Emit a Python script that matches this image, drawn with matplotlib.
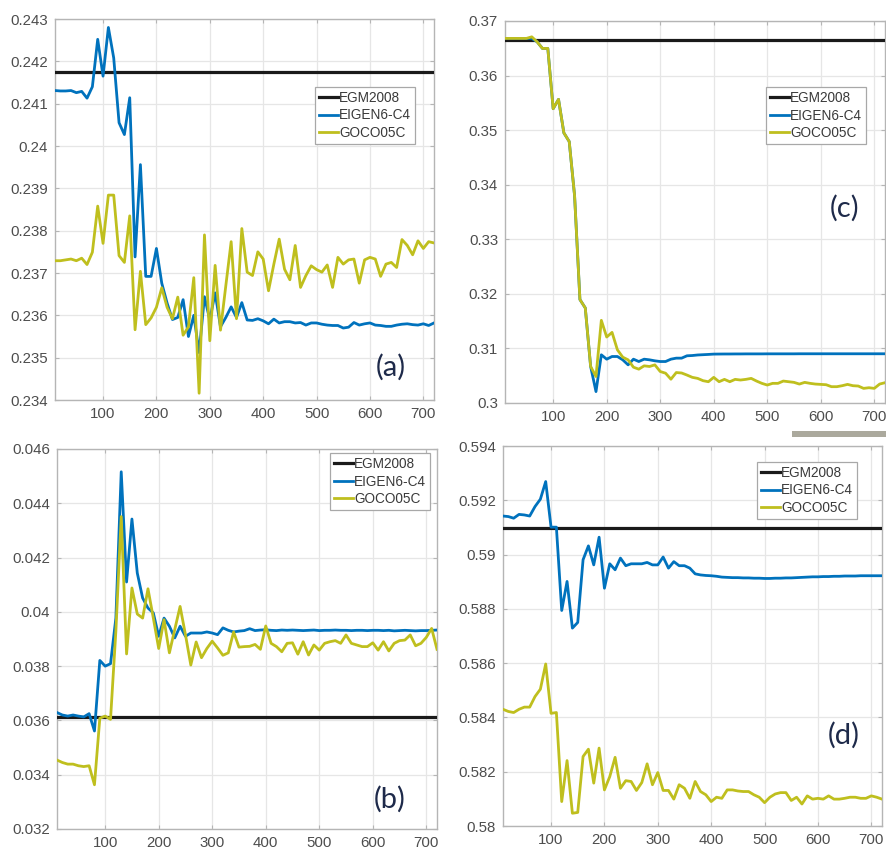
import matplotlib
matplotlib.use("Agg")
import matplotlib.pyplot as plt
import numpy as np
from matplotlib.ticker import FuncFormatter, MultipleLocator
from matplotlib.patches import Rectangle

plt.rcParams['font.family'] = ['Liberation Sans', 'DejaVu Sans']

# ---------------- data ----------------
degree = list(range(10, 721, 10))
labels = ["EGM2008", "EIGEN6-C4", "GOCO05C"]

# panel (a)
a_egm = 0.24175
a_eigen = [0.24131, 0.24130, 0.24130, 0.24131, 0.24126, 0.24129, 0.24113, 0.24140, 0.24252, 0.24165,
           0.24280, 0.24208, 0.24055, 0.24027, 0.24114, 0.23738, 0.23956, 0.23692, 0.23692, 0.23758,
           0.23676, 0.23629, 0.23590, 0.23595, 0.23637, 0.23550, 0.23600, 0.23512, 0.23644, 0.23589,
           0.23653, 0.23573, 0.23595, 0.23620, 0.23595, 0.23630, 0.23589, 0.23588, 0.23592, 0.23587,
           0.23580, 0.23591, 0.23582, 0.23585, 0.23585, 0.23582, 0.23583, 0.23577, 0.23582, 0.23582,
           0.23579, 0.23577, 0.23576, 0.23576, 0.23570, 0.23572, 0.23583, 0.23577, 0.23580, 0.23582,
           0.23577, 0.23576, 0.23574, 0.23574, 0.23577, 0.23579, 0.23580, 0.23578, 0.23577, 0.23580,
           0.23576, 0.23582]
a_goco = [0.23729, 0.23729, 0.23731, 0.23733, 0.23729, 0.23735, 0.23720, 0.23749, 0.23858, 0.23770,
          0.23884, 0.23884, 0.23741, 0.23725, 0.23835, 0.23566, 0.23704, 0.23578, 0.23594, 0.23619,
          0.23665, 0.23619, 0.23592, 0.23643, 0.23553, 0.23573, 0.23689, 0.23416, 0.23790, 0.23540,
          0.23718, 0.23565, 0.23670, 0.23774, 0.23592, 0.23805, 0.23702, 0.23694, 0.23750, 0.23733,
          0.23658, 0.23721, 0.23780, 0.23709, 0.23684, 0.23765, 0.23666, 0.23694, 0.23717, 0.23708,
          0.23702, 0.23719, 0.23666, 0.23737, 0.23721, 0.23731, 0.23733, 0.23676, 0.23731, 0.23737,
          0.23733, 0.23692, 0.23721, 0.23725, 0.23713, 0.23779, 0.23765, 0.23743, 0.23776, 0.23758,
          0.23774, 0.23771]

# panel (b)
b_egm = 0.03611
b_eigen = [0.03629, 0.03620, 0.03616, 0.03620, 0.03616, 0.03613, 0.03625, 0.03561, 0.03821, 0.03800,
           0.03809, 0.03977, 0.04516, 0.04110, 0.04342, 0.04143, 0.04051, 0.04014, 0.03996, 0.03910,
           0.03977, 0.03947, 0.03904, 0.03947, 0.03910, 0.03922, 0.03922, 0.03922, 0.03926, 0.03922,
           0.03916, 0.03941, 0.03932, 0.03926, 0.03929, 0.03931, 0.03938, 0.03931, 0.03933, 0.03934,
           0.03932, 0.03931, 0.03933, 0.03932, 0.03933, 0.03932, 0.03931, 0.03932, 0.03933, 0.03931,
           0.03932, 0.03932, 0.03933, 0.03932, 0.03932, 0.03931, 0.03932, 0.03932, 0.03931, 0.03932,
           0.03932, 0.03931, 0.03932, 0.03930, 0.03931, 0.03932, 0.03931, 0.03930, 0.03931, 0.03931,
           0.03932, 0.03933]
b_goco = [0.03454, 0.03445, 0.03439, 0.03439, 0.03433, 0.03430, 0.03433, 0.03363, 0.03608, 0.03616,
          0.03604, 0.03929, 0.04351, 0.03845, 0.04088, 0.03992, 0.03977, 0.04085, 0.03977, 0.03865,
          0.03971, 0.03849, 0.03935, 0.04020, 0.03916, 0.03804, 0.03889, 0.03831, 0.03865, 0.03892,
          0.03867, 0.03840, 0.03849, 0.03926, 0.03870, 0.03872, 0.03873, 0.03880, 0.03862, 0.03948,
          0.03884, 0.03872, 0.03853, 0.03884, 0.03886, 0.03844, 0.03890, 0.03841, 0.03878, 0.03859,
          0.03884, 0.03890, 0.03894, 0.03884, 0.03915, 0.03884, 0.03878, 0.03872, 0.03872, 0.03886,
          0.03859, 0.03890, 0.03856, 0.03884, 0.03894, 0.03896, 0.03915, 0.03875, 0.03884, 0.03906,
          0.03939, 0.03862]

# panel (c)
c_egm = 0.36644
c_eigen = [0.36681, 0.36681, 0.36681, 0.36681, 0.36681, 0.36680, 0.36619, 0.36497, 0.36497, 0.35393,
           0.35564, 0.34950, 0.34791, 0.33800, 0.31896, 0.31742, 0.30669, 0.30209, 0.30883, 0.30803,
           0.30852, 0.30852, 0.30791, 0.30699, 0.30803, 0.30760, 0.30803, 0.30791, 0.30773, 0.30760,
           0.30760, 0.30803, 0.30822, 0.30822, 0.30865, 0.30870, 0.30880, 0.30885, 0.30890, 0.30896,
           0.30897, 0.30898, 0.30898, 0.30899, 0.30899, 0.30900, 0.30900, 0.30900, 0.30900, 0.30901,
           0.30901, 0.30901, 0.30901, 0.30901, 0.30901, 0.30902, 0.30902, 0.30902, 0.30902, 0.30902,
           0.30902, 0.30902, 0.30902, 0.30902, 0.30902, 0.30902, 0.30902, 0.30902, 0.30902, 0.30902,
           0.30902, 0.30902]
c_goco = [0.36681, 0.36681, 0.36681, 0.36681, 0.36681, 0.36710, 0.36619, 0.36497, 0.36497, 0.35393,
          0.35564, 0.34950, 0.34791, 0.33800, 0.31896, 0.31742, 0.30669, 0.30485, 0.31515, 0.31209,
          0.31294, 0.30975, 0.30840, 0.30791, 0.30656, 0.30620, 0.30681, 0.30669, 0.30699, 0.30577,
          0.30546, 0.30436, 0.30558, 0.30550, 0.30512, 0.30470, 0.30451, 0.30409, 0.30390, 0.30470,
          0.30390, 0.30433, 0.30390, 0.30433, 0.30421, 0.30433, 0.30451, 0.30402, 0.30360, 0.30329,
          0.30360, 0.30360, 0.30402, 0.30390, 0.30378, 0.30347, 0.30378, 0.30360, 0.30347, 0.30341,
          0.30335, 0.30299, 0.30299, 0.30317, 0.30341, 0.30317, 0.30311, 0.30268, 0.30280, 0.30268,
          0.30347, 0.30372]

# panel (d)
d_egm = 0.59097
d_eigen = [0.59142, 0.59140, 0.59134, 0.59148, 0.59146, 0.59142, 0.59177, 0.59204, 0.59269, 0.59101,
           0.59101, 0.58794, 0.58901, 0.58729, 0.58750, 0.58981, 0.59032, 0.58962, 0.59064, 0.58876,
           0.58966, 0.58944, 0.58987, 0.58959, 0.58966, 0.58966, 0.58966, 0.58971, 0.58962, 0.58962,
           0.58991, 0.58950, 0.58974, 0.58959, 0.58959, 0.58950, 0.58929, 0.58925, 0.58923, 0.58922,
           0.58920, 0.58917, 0.58916, 0.58915, 0.58915, 0.58914, 0.58914, 0.58913, 0.58913, 0.58912,
           0.58912, 0.58913, 0.58913, 0.58914, 0.58914, 0.58915, 0.58916, 0.58917, 0.58918, 0.58918,
           0.58919, 0.58919, 0.58920, 0.58920, 0.58921, 0.58921, 0.58921, 0.58922, 0.58922, 0.58922,
           0.58922, 0.58922]
d_goco = [0.58430, 0.58422, 0.58418, 0.58430, 0.58438, 0.58438, 0.58477, 0.58504, 0.58597, 0.58415,
          0.58418, 0.58090, 0.58241, 0.58047, 0.58050, 0.58256, 0.58283, 0.58158, 0.58287, 0.58133,
          0.58182, 0.58253, 0.58139, 0.58167, 0.58164, 0.58131, 0.58160, 0.58229, 0.58152, 0.58197,
          0.58131, 0.58131, 0.58099, 0.58152, 0.58139, 0.58102, 0.58164, 0.58127, 0.58115, 0.58090,
          0.58106, 0.58102, 0.58133, 0.58133, 0.58129, 0.58127, 0.58127, 0.58115, 0.58106, 0.58086,
          0.58106, 0.58118, 0.58123, 0.58123, 0.58094, 0.58106, 0.58081, 0.58111, 0.58099, 0.58102,
          0.58099, 0.58111, 0.58099, 0.58099, 0.58102, 0.58106, 0.58106, 0.58102, 0.58102, 0.58111,
          0.58106, 0.58099]

x_ticks = [100, 200, 300, 400, 500, 600, 700]

# ---------------- styling ----------------
C_BLACK = '#1a1a1a'
C_BLUE = '#0072BD'
C_YEL = '#BFBF1E'
TICK_C = '#4d4d4d'

fig = plt.figure(figsize=(8.87, 8.5), dpi=100)

panels = [
    # rect, egm, eigen, goco, ylim, ystep, tag, tagpos, legend anchor
    ([55/887, 1-400/850, 379/887, 381/850], a_egm, a_eigen, a_goco, (0.234, 0.243), 0.001,
     "(a)", (0.885, 0.085), (0.950, 0.822)),
    ([505/887, 1-403/850, 380/887, 382/850], c_egm, c_eigen, c_goco, (0.30, 0.37), 0.01,
     "(c)", (0.894, 0.510), (0.950, 0.827)),
    ([57/887, 1-829/850, 380/887, 380/850], b_egm, b_eigen, b_goco, (0.032, 0.046), 0.002,
     "(b)", (0.876, 0.078), (0.982, 0.989)),
    ([503/887, 1-826/850, 379/887, 380/850], d_egm, d_eigen, d_goco, (0.580, 0.594), 0.002,
     "(d)", (0.900, 0.238), (0.934, 0.958)),
]

fmt = FuncFormatter(lambda v, p: f"{round(v, 6):g}")

for rect, egm, eig, goc, ylim, ystep, tag, tagpos, leganc in panels:
    ax = fig.add_axes(rect)
    ax.plot(degree, [egm] * len(degree), color=C_BLACK, lw=2.3, label=labels[0], zorder=3)
    ax.plot(degree, eig, color=C_BLUE, lw=2.0, label=labels[1], zorder=4)
    ax.plot(degree, goc, color=C_YEL, lw=2.0, label=labels[2], zorder=5)
    ax.set_xlim(10, 720)
    ax.set_ylim(*ylim)
    ax.set_xticks(x_ticks)
    ax.yaxis.set_major_locator(MultipleLocator(ystep))
    ax.yaxis.set_major_formatter(fmt)
    ax.grid(True, color='#e6e6e6', lw=0.9)
    ax.set_axisbelow(True)
    for s in ax.spines.values():
        s.set_color('#b5b5b5')
        s.set_linewidth(1.0)
    ax.tick_params(direction='in', length=3, width=0.8, color='#b5b5b5',
                   labelsize=10.8, labelcolor=TICK_C, top=True, right=True, pad=5)
    leg = ax.legend(loc='upper right', bbox_to_anchor=leganc, fontsize=9.8,
                    handlelength=1.4, handletextpad=0.05, borderpad=0.3,
                    labelspacing=0.25, borderaxespad=0, fancybox=False,
                    framealpha=1, edgecolor='#a8a8a8')
    leg.get_frame().set_linewidth(0.9)
    for t in leg.get_texts():
        t.set_color('#3a3a3a')
    ax.text(tagpos[0], tagpos[1], tag, transform=ax.transAxes, ha='center', va='center',
            fontsize=21, color='#1e2a4a', family=['Lato', 'DejaVu Sans'], zorder=6)

# scanning artifact strip below panel (c)
fig.patches.append(Rectangle((792/887, 1-437/850), 95/887, 6/850, transform=fig.transFigure,
                             facecolor='#9c9a8c', edgecolor='none', alpha=0.85))

fig.savefig("out.png", dpi=100)
